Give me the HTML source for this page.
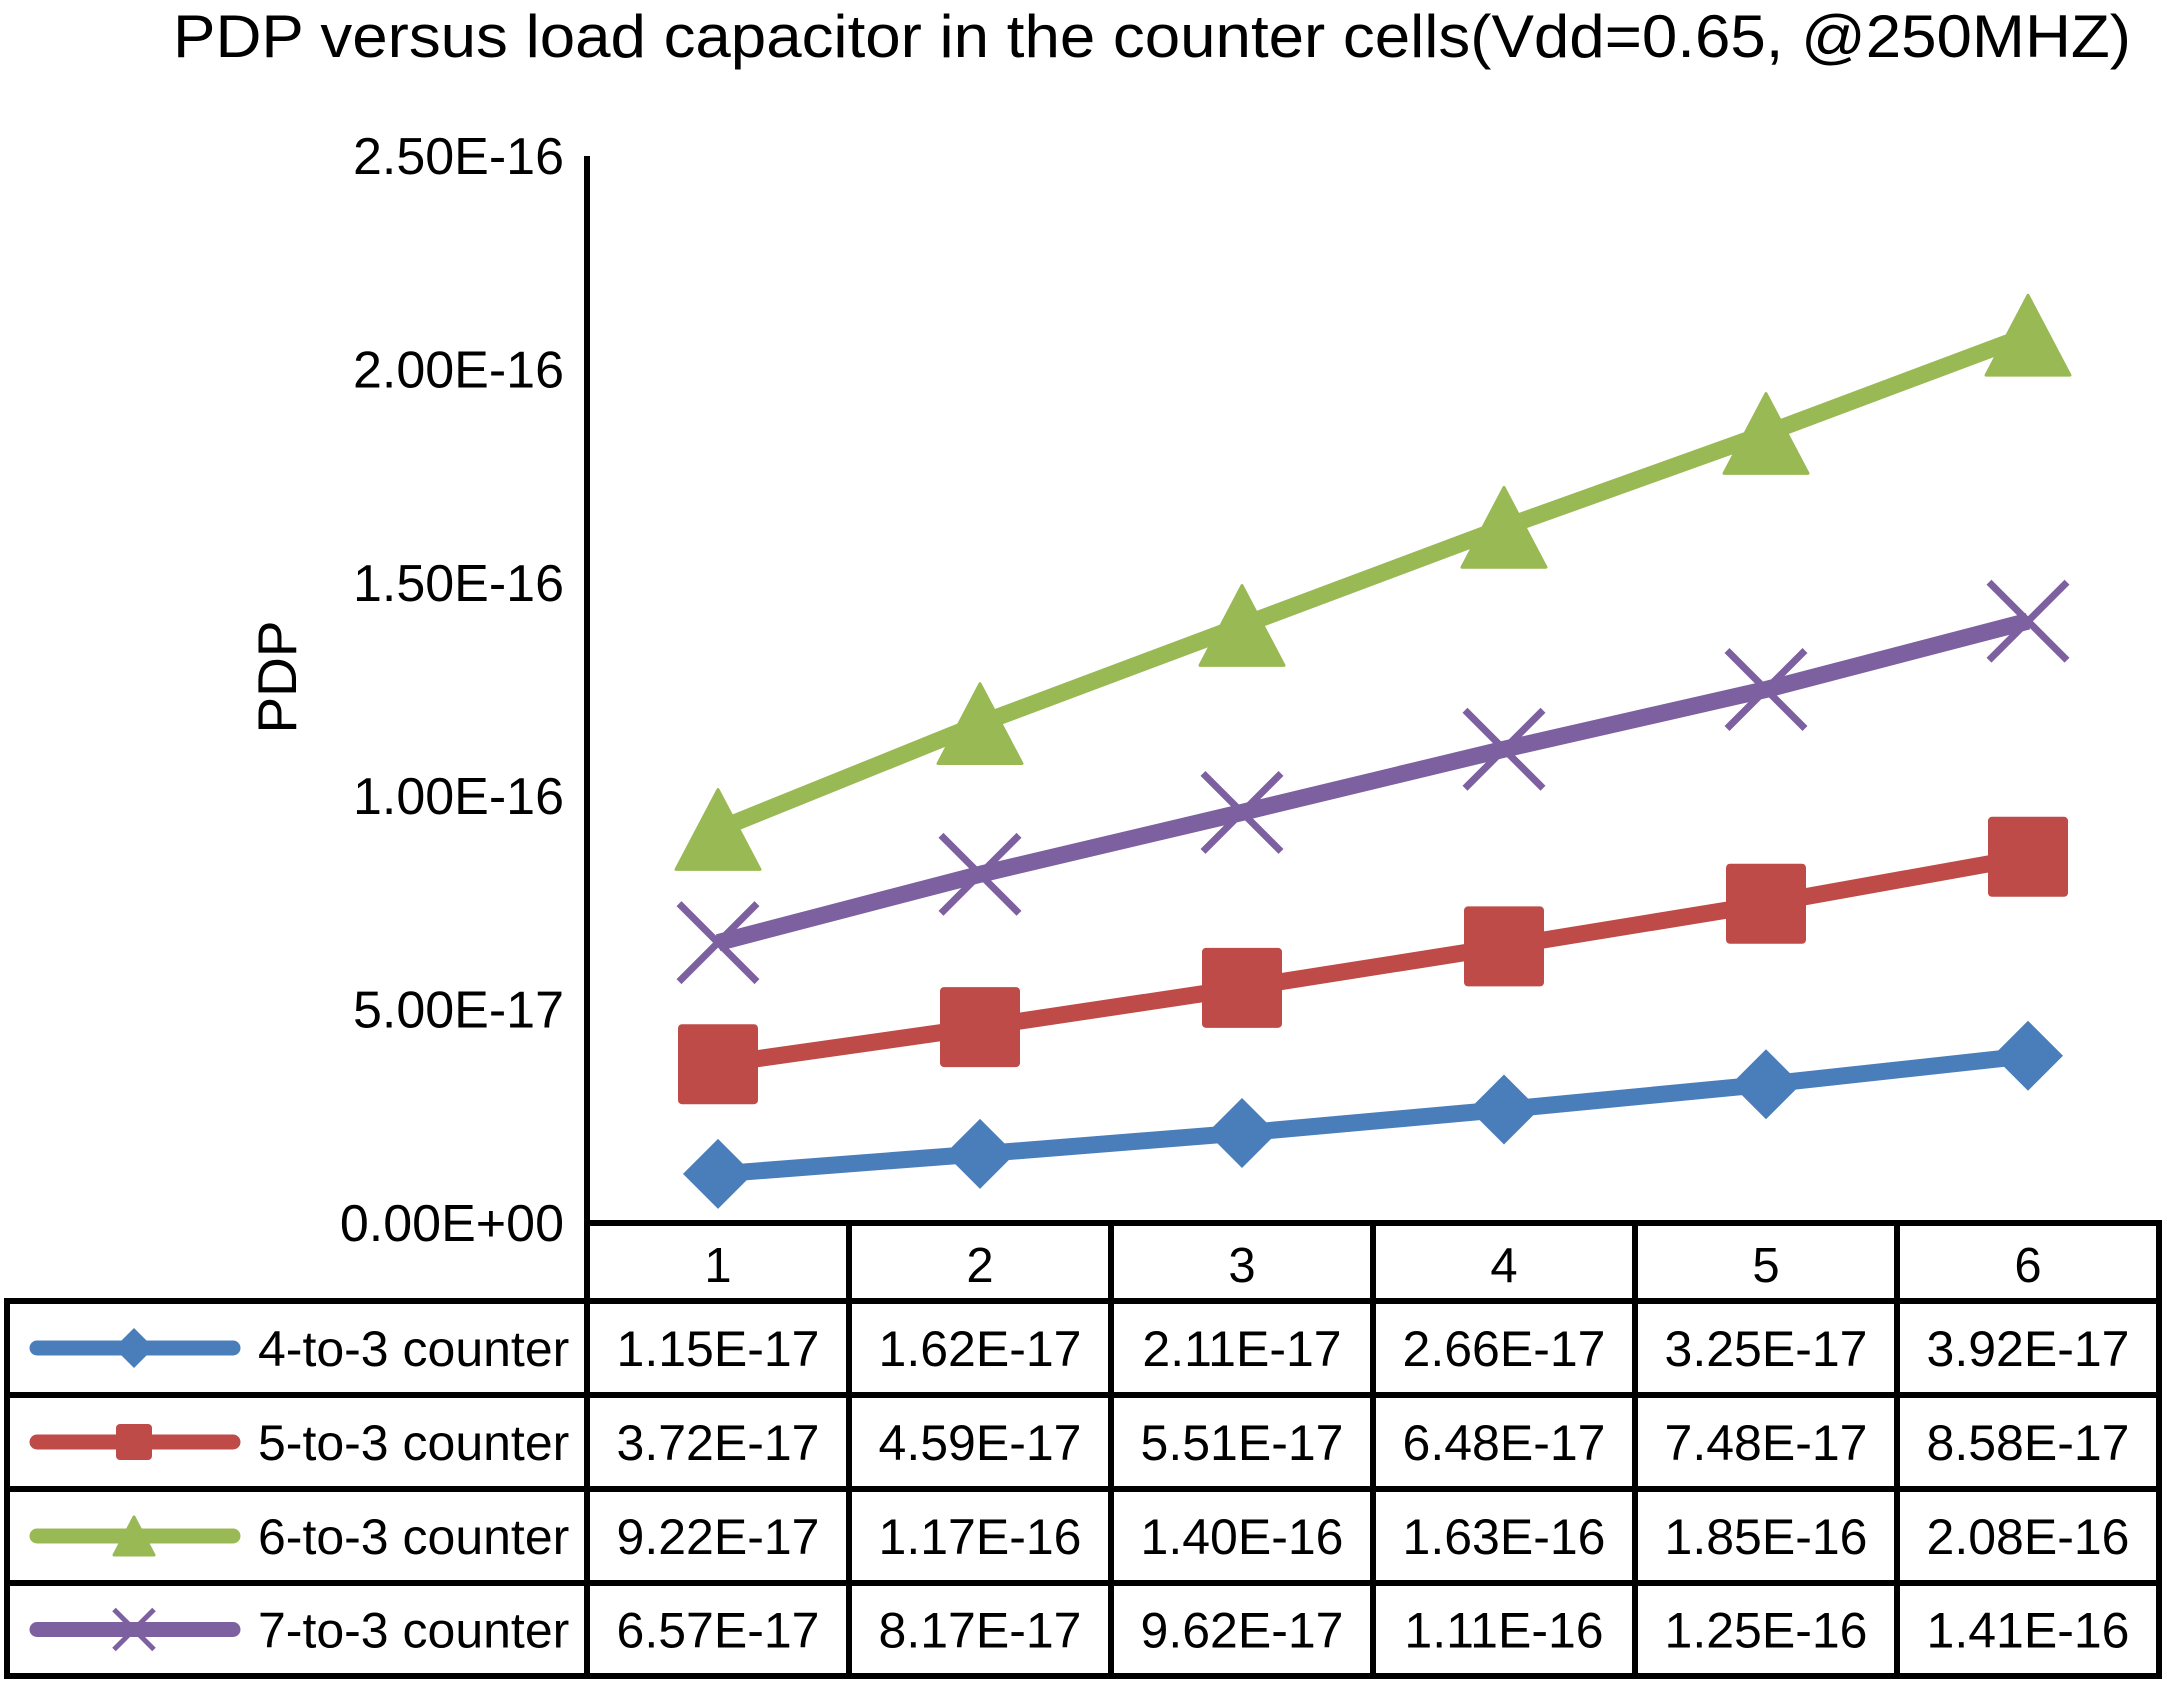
<!DOCTYPE html>
<html><head><meta charset="utf-8"><style>
html,body{margin:0;padding:0;background:#fff;}
svg{display:block;font-family:"Liberation Sans",sans-serif;}
</style></head><body>
<svg id="chart" width="2167" height="1681" viewBox="0 0 2167 1681">
<text x="1152" y="57" font-size="60" text-anchor="middle" textLength="1958" lengthAdjust="spacingAndGlyphs">PDP versus load capacitor in the counter cells(Vdd=0.65, @250MHZ)</text>
<text transform="translate(296,677) rotate(-90)" font-size="55" text-anchor="middle">PDP</text>
<g id="yticks"></g>
<g id="series"></g>
<g id="table"></g>
</svg>
<script>
const categories = ["1","2","3","4","5","6"];
const seriesNames = ["4-to-3 counter","5-to-3 counter","6-to-3 counter","7-to-3 counter"];
const s4 = [1.15e-17,1.62e-17,2.11e-17,2.66e-17,3.25e-17,3.92e-17];
const s5 = [3.72e-17,4.59e-17,5.51e-17,6.48e-17,7.48e-17,8.58e-17];
const s6 = [9.22e-17,1.17e-16,1.40e-16,1.63e-16,1.85e-16,2.08e-16];
const s7 = [6.57e-17,8.17e-17,9.62e-17,1.11e-16,1.25e-16,1.41e-16];
const labels4 = ["1.15E-17","1.62E-17","2.11E-17","2.66E-17","3.25E-17","3.92E-17"];
const labels5 = ["3.72E-17","4.59E-17","5.51E-17","6.48E-17","7.48E-17","8.58E-17"];
const labels6 = ["9.22E-17","1.17E-16","1.40E-16","1.63E-16","1.85E-16","2.08E-16"];
const labels7 = ["6.57E-17","8.17E-17","9.62E-17","1.11E-16","1.25E-16","1.41E-16"];
const yTicks = [0,5e-17,1e-16,1.5e-16,2e-16,2.5e-16];
const yTickLabels = ["0.00E+00","5.00E-17","1.00E-16","1.50E-16","2.00E-16","2.50E-16"];

const NS="http://www.w3.org/2000/svg";
const X0=587, COLW=262, Y0=1223, YTOP=156, YMAX=2.5e-16;
const xPos=i=>X0+COLW*(i+0.5);
const yPos=v=>Y0-(v/YMAX)*(Y0-YTOP);
function mk(tag,attrs,parent){const e=document.createElementNS(NS,tag);for(const k in attrs)e.setAttribute(k,attrs[k]);parent.appendChild(e);return e;}

const yt=document.getElementById('yticks');
const ax=mk('line',{x1:X0,y1:YTOP,x2:X0,y2:Y0+2,stroke:'#000','stroke-width':6},yt);


yTicks.forEach((v,i)=>{
  const t=mk('text',{x:564,y:yPos(v)+18,'font-size':52,'text-anchor':'end'},yt);
  t.textContent=yTickLabels[i];
  
  
});

const colors=['#4a7ebb','#be4b48','#98b954','#7d60a0'];
const data=[s4,s5,s6,s7];
const seriesKeys=['4-to-3','5-to-3','6-to-3','7-to-3'];
function marker(type,cx,cy,color,size,parent,sw){
  let e;
  const r=size/2;
  if(type===0){e=mk('polygon',{points:`${cx},${cy-r} ${cx+r},${cy} ${cx},${cy+r} ${cx-r},${cy}`,fill:color},parent);}
  else if(type===1){e=mk('rect',{x:cx-r,y:cy-r,width:size,height:size,rx:4,fill:color},parent);}
  else if(type===2){e=mk('polygon',{points:`${cx},${cy-r*0.95} ${cx+r},${cy+r*0.95} ${cx-r},${cy+r*0.95}`,fill:color,'stroke-linejoin':'round',stroke:color,'stroke-width':3},parent);}
  else {e=mk('path',{d:`M${cx-r},${cy-r}L${cx+r},${cy+r}M${cx+r},${cy-r}L${cx-r},${cy+r}`,stroke:color,'stroke-width':sw||7,fill:'none'},parent);}
  return e;
}
const sg=document.getElementById('series');
const sizes=[70,80,84,78];
data.forEach((arr,si)=>{
  const pts=arr.map((v,i)=>xPos(i)+','+yPos(v)).join(' ');
  const pl=mk('polyline',{points:pts,fill:'none',stroke:colors[si],'stroke-width':17,'stroke-linejoin':'round'},sg);
  
  
  arr.forEach((v,i)=>{
    const m=marker(si,xPos(i),yPos(v),colors[si],sizes[si],sg,7);
    
    
  });
});

const tg=document.getElementById('table');
const XR=X0+COLW*6, XL=7;
const rowY=[1223,1301,1395,1489,1583,1676];
function ln(x1,y1,x2,y2){const l=mk('line',{x1,y1,x2,y2,stroke:'#000','stroke-width':6},tg);}
ln(X0,1223,XR,1223);
ln(XL,1301,XR,1301);
for(let r=2;r<6;r++)ln(XL,rowY[r],XR,rowY[r]);
ln(XL,1298,XL,1679);
for(let c=0;c<=6;c++)ln(X0+COLW*c,1220,X0+COLW*c,1679);
categories.forEach((c,i)=>{
  const t=mk('text',{x:xPos(i),y:1282,'font-size':49,'text-anchor':'middle'},tg);
  t.textContent=c;
  
  
});
const labelSets=[labels4,labels5,labels6,labels7];
seriesNames.forEach((name,si)=>{
  const cy=(rowY[si+1]+rowY[si+2])/2;
  const l=mk('line',{x1:37,y1:cy,x2:233,y2:cy,stroke:colors[si],'stroke-width':15,'stroke-linecap':'round'},tg);
  
  
  const m=marker(si,134,cy,colors[si],si===2?40:(si===1?36:40),tg,5);
  
  
  const t=mk('text',{x:258,y:cy+18,'font-size':50},tg);
  t.textContent=name;
  
  
  labelSets[si].forEach((lab,i)=>{
    const v=mk('text',{x:xPos(i),y:cy+18,'font-size':50,'text-anchor':'middle'},tg);
    v.textContent=lab;
    
    
  });
});
</script>
</body></html>
